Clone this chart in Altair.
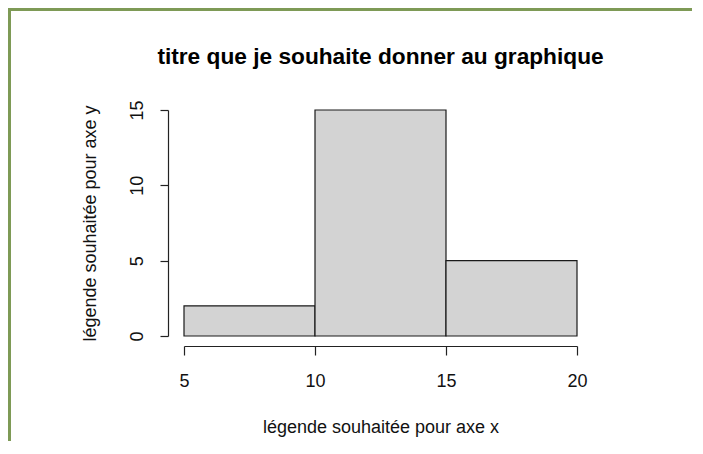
import altair as alt
import pandas as pd

# Histogram bins and counts
bin_start = [5, 10, 15]
bin_end = [10, 15, 20]
counts = [2, 15, 5]
x_ticks = [5, 10, 15, 20]
y_ticks = [0, 5, 10, 15]

title_text = "titre que je souhaite donner au graphique"
x_title = "légende souhaitée pour axe x"
y_title = "légende souhaitée pour axe y"

df = pd.DataFrame({"start": bin_start, "end": bin_end, "count": counts})

FONT = "Liberation Sans"
W, H = 393, 226
PAD_L, PAD_T, PAD_R, PAD_B = 176, 102, 115, 105
GREEN = "#7E9A56"

bars = alt.Chart(df).mark_rect(
    fill="#d3d3d3", stroke="#1a1a1a", strokeWidth=1.2
).encode(
    x=alt.X(
        "start:Q",
        scale=alt.Scale(domain=[5, 20], nice=False, zero=False),
        axis=alt.Axis(
            values=x_ticks, title=x_title, offset=10, tickSize=9,
            labelPadding=17, labelFontSize=18, labelFont=FONT,
            labelColor="#111111", titleFont=FONT, titleFontSize=18,
            titleFontWeight="normal", titleColor="#111111",
            titleBaseline="alphabetic", titlePadding=42,
            domainColor="#222222", tickColor="#222222",
            domainWidth=1.2, tickWidth=1.2, grid=False,
            labelFlush=False, labelOverlap=False,
        ),
    ),
    x2="end:Q",
    y=alt.Y(
        "count:Q",
        scale=alt.Scale(domain=[0, 15], nice=False, zero=False),
        axis=alt.Axis(
            values=y_ticks, title=y_title, offset=16, tickSize=8,
            labelAngle=-90, labelAlign="center", labelBaseline="alphabetic",
            labelPadding=18, labelFontSize=18, labelFont=FONT,
            labelColor="#111111", titleFont=FONT, titleFontSize=18,
            titleFontWeight="normal", titleColor="#111111",
            titleBaseline="alphabetic", titlePadding=33,
            domainColor="#222222", tickColor="#222222",
            domainWidth=1.2, tickWidth=1.2, grid=False,
            labelFlush=False, labelOverlap=False,
        ),
    ),
    y2=alt.datum(0),
)

one = pd.DataFrame({"a": [0]})
top_border = alt.Chart(one).mark_rule(color=GREEN, strokeWidth=3).encode(
    x=alt.value(-PAD_L + 1.5), x2=alt.value(W + PAD_R), y=alt.value(-PAD_T + 1.5)
)
left_border = alt.Chart(one).mark_rule(color=GREEN, strokeWidth=3).encode(
    x=alt.value(-PAD_L + 1.5), y=alt.value(-PAD_T), y2=alt.value(H + PAD_B)
)
title_mark = alt.Chart(one).mark_text(
    text=title_text, font=FONT, fontSize=22.7, fontWeight="bold",
    color="#000000", align="center", baseline="alphabetic",
).encode(x=alt.value(W / 2), y=alt.value(-46))

chart = alt.layer(bars, top_border, left_border, title_mark).properties(
    width=W,
    height=H,
    autosize=alt.AutoSizeParams(type="none"),
    padding={"left": PAD_L, "top": PAD_T, "right": PAD_R, "bottom": PAD_B},
    background="white",
).configure_view(stroke="transparent")

chart.save("out.html", embed_options={"renderer": "svg", "actions": False})
